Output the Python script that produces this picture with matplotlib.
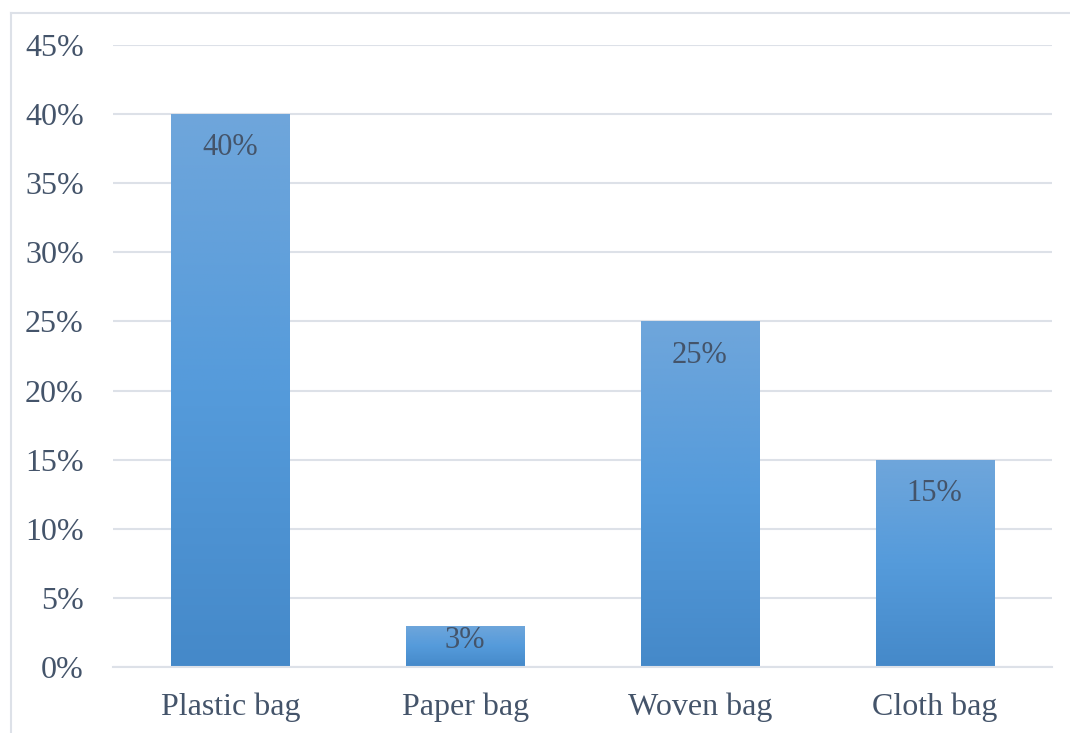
import matplotlib.pyplot as plt
import numpy as np
from matplotlib.colors import LinearSegmentedColormap
from matplotlib.lines import Line2D
from matplotlib.ticker import FuncFormatter

categories = ["Plastic bag", "Paper bag", "Woven bag", "Cloth bag"]
shares = [0.40, 0.03, 0.25, 0.15]
y_ticks = [0.00, 0.05, 0.10, 0.15, 0.20, 0.25, 0.30, 0.35, 0.40, 0.45]

TEXT = "#44546A"
GRID = "#DDE1E8"

plt.rcParams["font.family"] = ["Liberation Serif", "DejaVu Serif"]

# bottom -> top colour ramp for each bar
bar_cmap = LinearSegmentedColormap.from_list(
    "bar_grad", ["#4589C9", "#559BDB", "#6FA6DB"])


def main():
    fig = plt.figure(figsize=(10.7, 7.33), dpi=100)
    ax = fig.add_axes([113 / 1070, 66 / 733, 939 / 1070, 622 / 733])

    x = np.arange(len(categories))
    bars = ax.bar(x, shares, width=0.503, color="none", zorder=2)

    grad = np.linspace(0, 1, 256).reshape(-1, 1)
    for bar in bars:
        x0 = bar.get_x()
        w = bar.get_width()
        h = bar.get_height()
        im = ax.imshow(grad, cmap=bar_cmap, origin="lower", aspect="auto",
                       extent=[x0, x0 + w, 0, h], zorder=2)
        im.set_clip_path(bar)

    for xi, v in zip(x, shares):
        ly = v - min(0.0245, 0.35 * v)
        ax.text(xi, ly, f"{v * 100:.0f}%", ha="center", va="center",
                fontsize=22, color=TEXT, zorder=3)

    ax.set_xlim(-0.5, len(categories) - 0.5)
    ax.set_ylim(0, 0.45)
    ax.set_yticks(y_ticks)
    ax.yaxis.set_major_formatter(FuncFormatter(lambda v, _: f"{v * 100:.0f}%"))
    ax.set_xticks(x)
    ax.set_xticklabels(categories)

    ax.tick_params(axis="y", length=0, pad=21, labelsize=23, labelcolor=TEXT)
    ax.tick_params(axis="x", length=0, pad=18, labelsize=23, labelcolor=TEXT)

    ax.grid(axis="y", color=GRID, linewidth=1.5, zorder=0)
    ax.set_axisbelow(True)
    for side in ["top", "right", "left"]:
        ax.spines[side].set_visible(False)
    ax.spines["bottom"].set_color(GRID)
    ax.spines["bottom"].set_linewidth(1.5)

    # chart frame, partly cut off at the right and bottom
    fig.add_artist(Line2D([11 / 1070, 11 / 1070], [0, 1 - 13 / 733],
                          color=GRID, linewidth=1.5))
    fig.add_artist(Line2D([11 / 1070, 1], [1 - 13 / 733, 1 - 13 / 733],
                          color=GRID, linewidth=1.5))

    fig.savefig("out.png", dpi=100)


if __name__ == "__main__":
    main()
